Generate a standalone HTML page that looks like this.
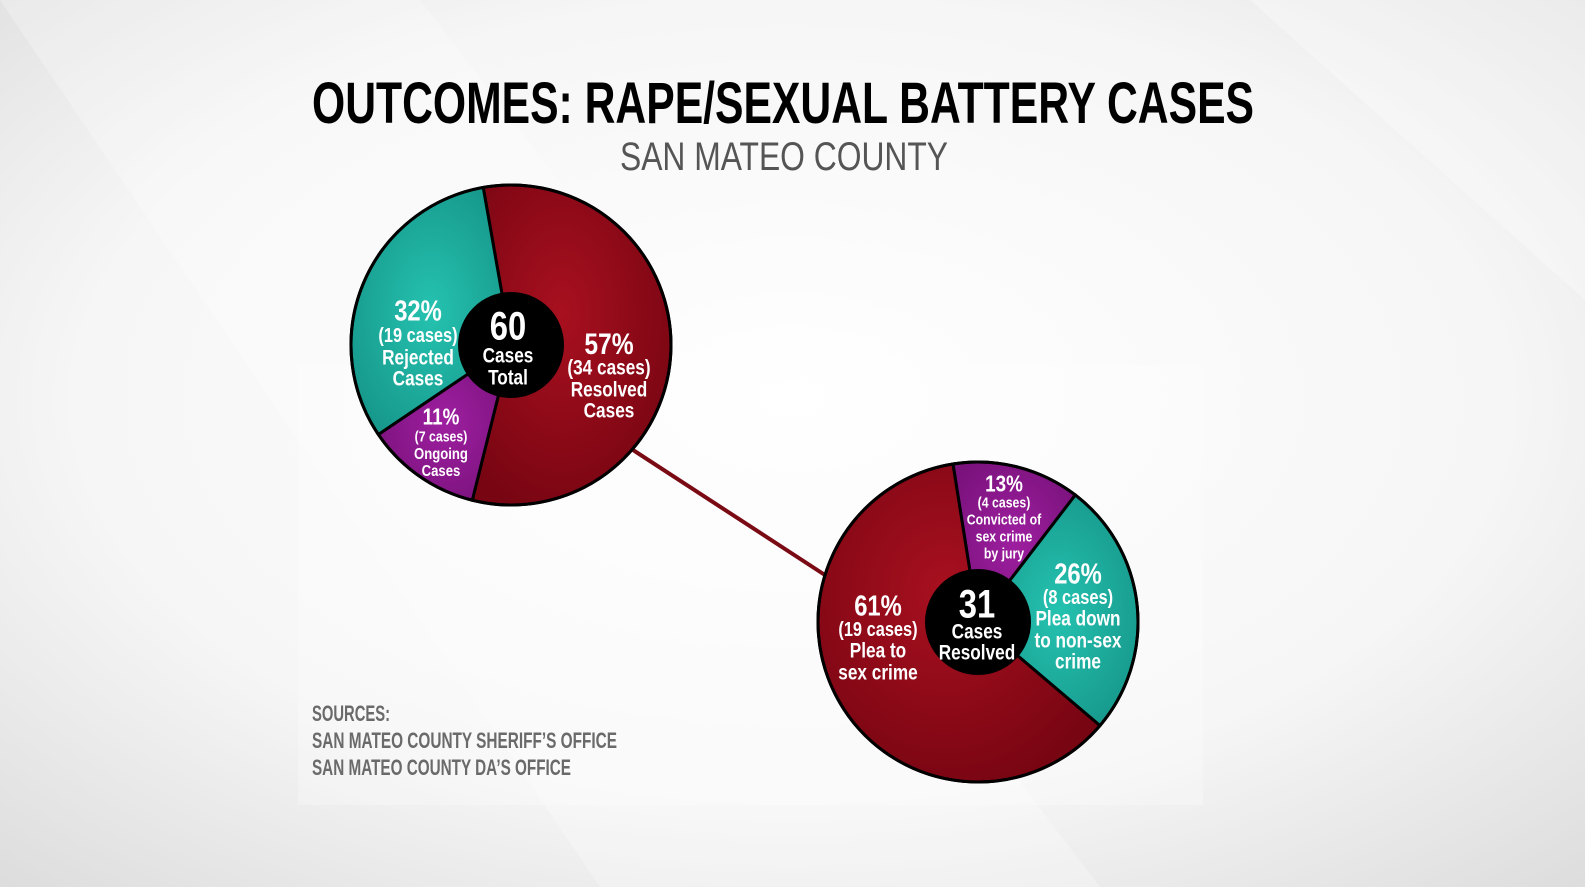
<!DOCTYPE html>
<html><head><meta charset="utf-8"><style>
html,body{margin:0;padding:0;width:1585px;height:887px;overflow:hidden}
svg{display:block}
text{font-family:"Liberation Sans Narrow","Liberation Sans",sans-serif;font-weight:bold}
</style></head><body>
<svg width="1585" height="887" viewBox="0 0 1585 887">
<defs>
<radialGradient id="bg" cx="0.5" cy="0.45" r="0.75"><stop offset="0" stop-color="#ffffff"/><stop offset="0.6" stop-color="#f6f6f6"/><stop offset="1" stop-color="#dcdcdc"/></radialGradient>
<radialGradient id="red" cx="0.45" cy="0.4" r="0.65"><stop offset="0" stop-color="#a8101f"/><stop offset="1" stop-color="#780512"/></radialGradient>
<radialGradient id="teal" cx="0.5" cy="0.5" r="0.6"><stop offset="0" stop-color="#25c2b0"/><stop offset="1" stop-color="#16978a"/></radialGradient>
<radialGradient id="purple" cx="0.5" cy="0.5" r="0.6"><stop offset="0" stop-color="#9e1fa0"/><stop offset="1" stop-color="#7a127c"/></radialGradient>
</defs>
<rect width="1585" height="887" fill="url(#bg)"/>
<polygon points="0,0 420,0 1100,887 600,887" fill="#ffffff" opacity="0.25"/>
<polygon points="1250,0 1585,0 1585,300" fill="#ffffff" opacity="0.3"/>
<rect x="298" y="365" width="905" height="440" fill="#ffffff" opacity="0.25"/>
<text x="783" y="123" font-size="58" fill="#000" text-anchor="middle" textLength="942" lengthAdjust="spacingAndGlyphs">OUTCOMES: RAPE/SEXUAL BATTERY CASES</text>
<text x="784" y="170" font-size="40" fill="#555" style="font-weight:normal" text-anchor="middle" textLength="328" lengthAdjust="spacingAndGlyphs">SAN MATEO COUNTY</text>
<g fill="#6a6a6a" font-size="22">
<text x="312" y="721" textLength="78" lengthAdjust="spacingAndGlyphs">SOURCES:</text>
<text x="312" y="748" textLength="305" lengthAdjust="spacingAndGlyphs">SAN MATEO COUNTY SHERIFF’S OFFICE</text>
<text x="312" y="775" textLength="259" lengthAdjust="spacingAndGlyphs">SAN MATEO COUNTY DA’S OFFICE</text>
</g>
<line x1="633" y1="450" x2="828" y2="577" stroke="#7a0a14" stroke-width="4"/>
<g id="pies"></g>
</svg>
<script>
const pie1Categories = ["Resolved", "Ongoing", "Rejected"];
const pie1Values = [34, 7, 19];
const pie1Percents = ["57%", "11%", "32%"];
const pie2Categories = ["Convicted by jury", "Plea down to non-sex crime", "Plea to sex crime"];
const pie2Values = [4, 8, 19];
const pie2Percents = ["13%", "26%", "61%"];
const pie1Fills = ["url(#red)", "url(#purple)", "url(#teal)"];
const pie2Fills = ["url(#purple)", "url(#teal)", "url(#red)"];
const NS = "http://www.w3.org/2000/svg";
const g = document.getElementById('pies');
function drawPie(cx, cy, r, values, fills, startDeg, names, prefix) {
  const total = values.reduce((a, b) => a + b, 0);
  let a = startDeg;
  values.forEach((v, i) => {
    const sweep = v / total * 360;
    const a0 = a * Math.PI / 180, a1 = (a + sweep) * Math.PI / 180;
    const x0 = cx + r * Math.sin(a0), y0 = cy - r * Math.cos(a0);
    const x1 = cx + r * Math.sin(a1), y1 = cy - r * Math.cos(a1);
    const p = document.createElementNS(NS, 'path');
    p.setAttribute('d', `M${cx},${cy} L${x0},${y0} A${r},${r} 0 ${sweep > 180 ? 1 : 0} 1 ${x1},${y1} Z`);
    p.setAttribute('fill', fills[i]);
    p.setAttribute('stroke', '#000');
    p.setAttribute('stroke-width', '3');
    
    
    g.appendChild(p);
    a += sweep;
  });
  const c = document.createElementNS(NS, 'circle');
  c.setAttribute('cx', cx); c.setAttribute('cy', cy); c.setAttribute('r', r);
  c.setAttribute('fill', 'none'); c.setAttribute('stroke', '#000'); c.setAttribute('stroke-width', '3');
  
  
  g.appendChild(c);
  const h = document.createElementNS(NS, 'circle');
  h.setAttribute('cx', cx); h.setAttribute('cy', cy); h.setAttribute('r', 53); h.setAttribute('fill', '#000');
  
  
  g.appendChild(h);
}
drawPie(511, 345, 160, pie1Values, pie1Fills, -10, pie1Categories, 'pie-total');
drawPie(978, 622, 160, pie2Values, pie2Fills, -9, pie2Categories, 'pie-resolved');
const t1 = pie1Values.reduce((a, b) => a + b, 0), t2 = pie2Values.reduce((a, b) => a + b, 0);
const labels = [
  ['label-rejected', 418, [[310, 29, pie1Percents[2]], [335, 20, '(' + pie1Values[2] + ' cases)'], [357, 21, 'Rejected'], [378, 21, 'Cases']]],
  ['label-total', 508, [[325, 40, String(t1)], [355, 21, 'Cases'], [377, 21, 'Total']]],
  ['label-resolved', 609, [[343, 30, pie1Percents[0]], [367, 21, '(' + pie1Values[0] + ' cases)'], [389, 21, 'Resolved'], [410, 21, 'Cases']]],
  ['label-ongoing', 441, [[416, 23, pie1Percents[1]], [436, 15, '(' + pie1Values[1] + ' cases)'], [453, 16, 'Ongoing'], [470, 16, 'Cases']]],
  ['label-jury', 1004, [[483, 23, pie2Percents[0]], [502, 15, '(' + pie2Values[0] + ' cases)'], [519, 15, 'Convicted of'], [536, 15, 'sex crime'], [553, 15, 'by jury']]],
  ['label-plea-down', 1078, [[573, 29, pie2Percents[1]], [597, 20, '(' + pie2Values[1] + ' cases)'], [618, 21, 'Plea down'], [640, 21, 'to non-sex'], [661, 21, 'crime']]],
  ['label-plea-sex', 878, [[605, 29, pie2Percents[2]], [629, 20, '(' + pie2Values[2] + ' cases)'], [650, 21, 'Plea to'], [672, 21, 'sex crime']]],
  ['label-resolved-total', 977, [[603, 40, String(t2)], [631, 21, 'Cases'], [652, 21, 'Resolved']]]
];
labels.forEach(([name, x, lines]) => {
  const grp = document.createElementNS(NS, 'g');
  
  
  lines.forEach(([y, s, txt]) => {
    const t = document.createElementNS(NS, 'text');
    t.setAttribute('x', x); t.setAttribute('y', y + s * 0.36);
    t.setAttribute('font-size', s); t.setAttribute('fill', '#fff');
    t.setAttribute('text-anchor', 'middle');
    t.setAttribute('transform', `translate(${x},0) scale(0.82,1) translate(${-x},0)`);
    t.textContent = txt;
    grp.appendChild(t);
  });
  g.appendChild(grp);
});
</script>
</body></html>
